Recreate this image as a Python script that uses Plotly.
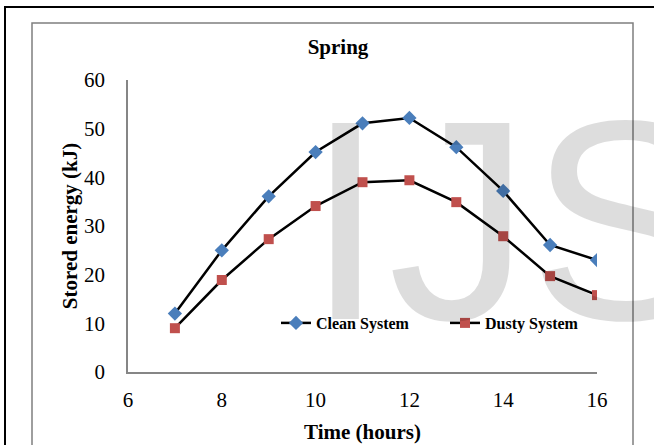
import plotly.graph_objects as go

hours = [7, 8, 9, 10, 11, 12, 13, 14, 15, 16]
clean_system = [12, 25, 36.1, 45.2, 51.1, 52.2, 46.2, 37.2, 26.1, 23]
dusty_system = [9, 18.9, 27.3, 34.1, 39, 39.4, 34.9, 27.9, 19.7, 15.8]

SERIF = "Liberation Serif, Times New Roman, serif"

fig = go.Figure()
fig.add_trace(go.Scatter(
    x=hours, y=clean_system, name="Clean System", mode="lines+markers",
    line=dict(color="black", width=2.5),
    marker=dict(symbol="diamond", size=11, color="#4a7ebb"),
))
fig.add_trace(go.Scatter(
    x=hours, y=dusty_system, name="Dusty System", mode="lines+markers",
    line=dict(color="black", width=2.5),
    marker=dict(symbol="square", size=10, color="#c0504d"),
))

W, H = 654, 445
L, R, T, B = 128, 57, 80, 73
pw, ph = W - L - R, H - T - B

def px(x):
    return (x - L) / pw

def py(y):
    return (H - B - y) / ph

fig.update_layout(
    width=W, height=H,
    margin=dict(l=L, r=R, t=T, b=B),
    paper_bgcolor="white", plot_bgcolor="rgba(0,0,0,0)",
    font=dict(family=SERIF, color="black", size=21),
    title=dict(text="Spring", x=338 / W, xanchor="center", y=1 - 47 / H, yanchor="middle",
               font=dict(family=SERIF, size=21, weight="bold")),
    xaxis=dict(range=[6, 16], dtick=2, showgrid=False, zeroline=False,
               showline=True, linecolor="#868686", linewidth=1.5,
               ticks="", ticklabelstandoff=8, automargin=False,
               title=dict(text="Time (hours)", font=dict(size=21, weight="bold"), standoff=13)),
    yaxis=dict(range=[0, 60], dtick=10, showgrid=False, zeroline=False,
               showline=True, linecolor="#868686", linewidth=1.5,
               ticks="", ticklabelstandoff=17, automargin=False,
               title=dict(text="Stored energy (kJ)", font=dict(size=21, weight="bold"), standoff=1)),
    legend=dict(orientation="h", x=px(276), xanchor="left", y=py(323), yanchor="middle",
                bgcolor="rgba(0,0,0,0)", font=dict(family=SERIF, size=16, weight="bold"),
                entrywidth=124),
    showlegend=True,
)

# outer black frame and inner gray frame
fig.add_shape(type="rect", xref="paper", yref="paper",
              x0=px(5), x1=px(700), y0=py(500), y1=py(7),
              line=dict(color="black", width=2), layer="below")
fig.add_shape(type="rect", xref="paper", yref="paper",
              x0=px(32), x1=px(633), y0=py(500), y1=py(23),
              line=dict(color="#7f7f7f", width=1.5), layer="below")

# watermark letters
for letter, left in (("I", 304), ("J", 386), ("S", 527)):
    fig.add_annotation(text=letter, xref="paper", yref="paper", x=px(left), y=py(220),
                       xanchor="left", yanchor="middle", showarrow=False,
                       font=dict(family="Liberation Sans, Arial, sans-serif", size=285,
                                 color="rgba(0,0,0,0.135)"))

fig.write_html("out.html", config={"displayModeBar": False},
               post_script="document.body.style.margin='0';")
